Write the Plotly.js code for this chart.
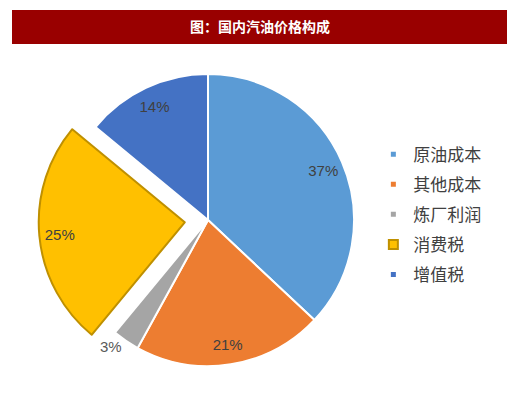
<!DOCTYPE html>
<html>
<head>
<meta charset="utf-8">
<script src="https://cdn.plot.ly/plotly-3.0.1.min.js"></script>
<style>html,body{margin:0;padding:0;background:#fff;}#chart{width:520px;height:393px;}</style>
</head>
<body>
<div id="chart"></div>
<script>
const categories = ['原油成本', '其他成本', '炼厂利润', '消费税', '增值税'];
const values = [37, 21, 3, 25, 14];
const colors = ['#5B9BD5', '#ED7D31', '#A5A5A5', '#FFC000', '#4472C4'];
const pulls = [0, 0, 0, 0.16, 0];
const borderColors = ['#FFFFFF', '#FFFFFF', '#FFFFFF', '#BF9000', '#FFFFFF'];
const textPositions = ['inside', 'inside', 'outside', 'inside', 'inside'];
const titleText = '图：国内汽油价格构成';

const FONT = 'Liberation Sans, Arial, Noto Sans CJK SC, sans-serif';
const DOMAIN = {x: [0.0742, 0.7258], y: [0.009, 0.871]};

// Filled slices
const pie = {
  type: 'pie',
  labels: categories,
  values: values,
  sort: false,
  direction: 'clockwise',
  rotation: 0,
  pull: pulls,
  marker: {colors: colors, line: {color: borderColors, width: 2}},
  textinfo: 'none',
  hoverinfo: 'label+percent',
  showlegend: false,
  domain: DOMAIN
};

// Same slices, transparent ring, used only to place the percentage labels near the rim
const labelPie = {
  type: 'pie',
  labels: categories,
  values: values,
  sort: false,
  direction: 'clockwise',
  rotation: 0,
  pull: pulls,
  hole: 0.72,
  marker: {colors: categories.map(() => 'rgba(0,0,0,0)'), line: {width: 0}},
  texttemplate: '%{value}%',
  textposition: textPositions,
  insidetextorientation: 'horizontal',
  textfont: {family: FONT, size: 15, color: '#404040'},
  outsidetextfont: {family: FONT, size: 15, color: '#595959'},
  hoverinfo: 'skip',
  showlegend: false,
  domain: DOMAIN
};

const legendTraces = categories.map((c, i) => ({
  type: 'scatter',
  mode: 'markers',
  x: [null], y: [null],
  name: c,
  legendgroup: 'g' + i,
  showlegend: true,
  marker: {
    symbol: 'square',
    size: i === 3 ? 9 : 5,
    color: colors[i],
    line: {color: i === 3 ? borderColors[i] : colors[i], width: i === 3 ? 2 : 0}
  },
  hoverinfo: 'skip'
}));

const layout = {
  width: 520, height: 393,
  margin: {l: 0, r: 0, t: 0, b: 0},
  paper_bgcolor: '#FFFFFF',
  plot_bgcolor: 'rgba(0,0,0,0)',
  xaxis: {visible: false},
  yaxis: {visible: false},
  showlegend: true,
  legend: {
    x: 0.718, xanchor: 'left',
    y: 0.454, yanchor: 'middle',
    traceorder: 'grouped',
    tracegroupgap: 5,
    itemwidth: 30,
    font: {family: 'Noto Sans CJK SC, sans-serif', size: 17, color: '#404040'},
    bgcolor: 'rgba(0,0,0,0)', borderwidth: 0
  },
  shapes: [{
    type: 'rect', xref: 'paper', yref: 'paper',
    x0: 12/520, x1: 507/520, y0: 1 - 44/393, y1: 1 - 10/393,
    fillcolor: '#990000', line: {width: 0}, layer: 'below'
  }],
  title: {
    text: '<b>' + titleText + '</b>',
    x: 0.5, xanchor: 'center',
    y: 1 - 27/393, yanchor: 'middle', yref: 'paper',
    font: {family: 'Noto Sans CJK SC, sans-serif', size: 14, color: '#FFFFFF'}
  }
};

Plotly.newPlot('chart', [pie, labelPie].concat(legendTraces), layout, {displayModeBar: false, staticPlot: true});
</script>
</body>
</html>
